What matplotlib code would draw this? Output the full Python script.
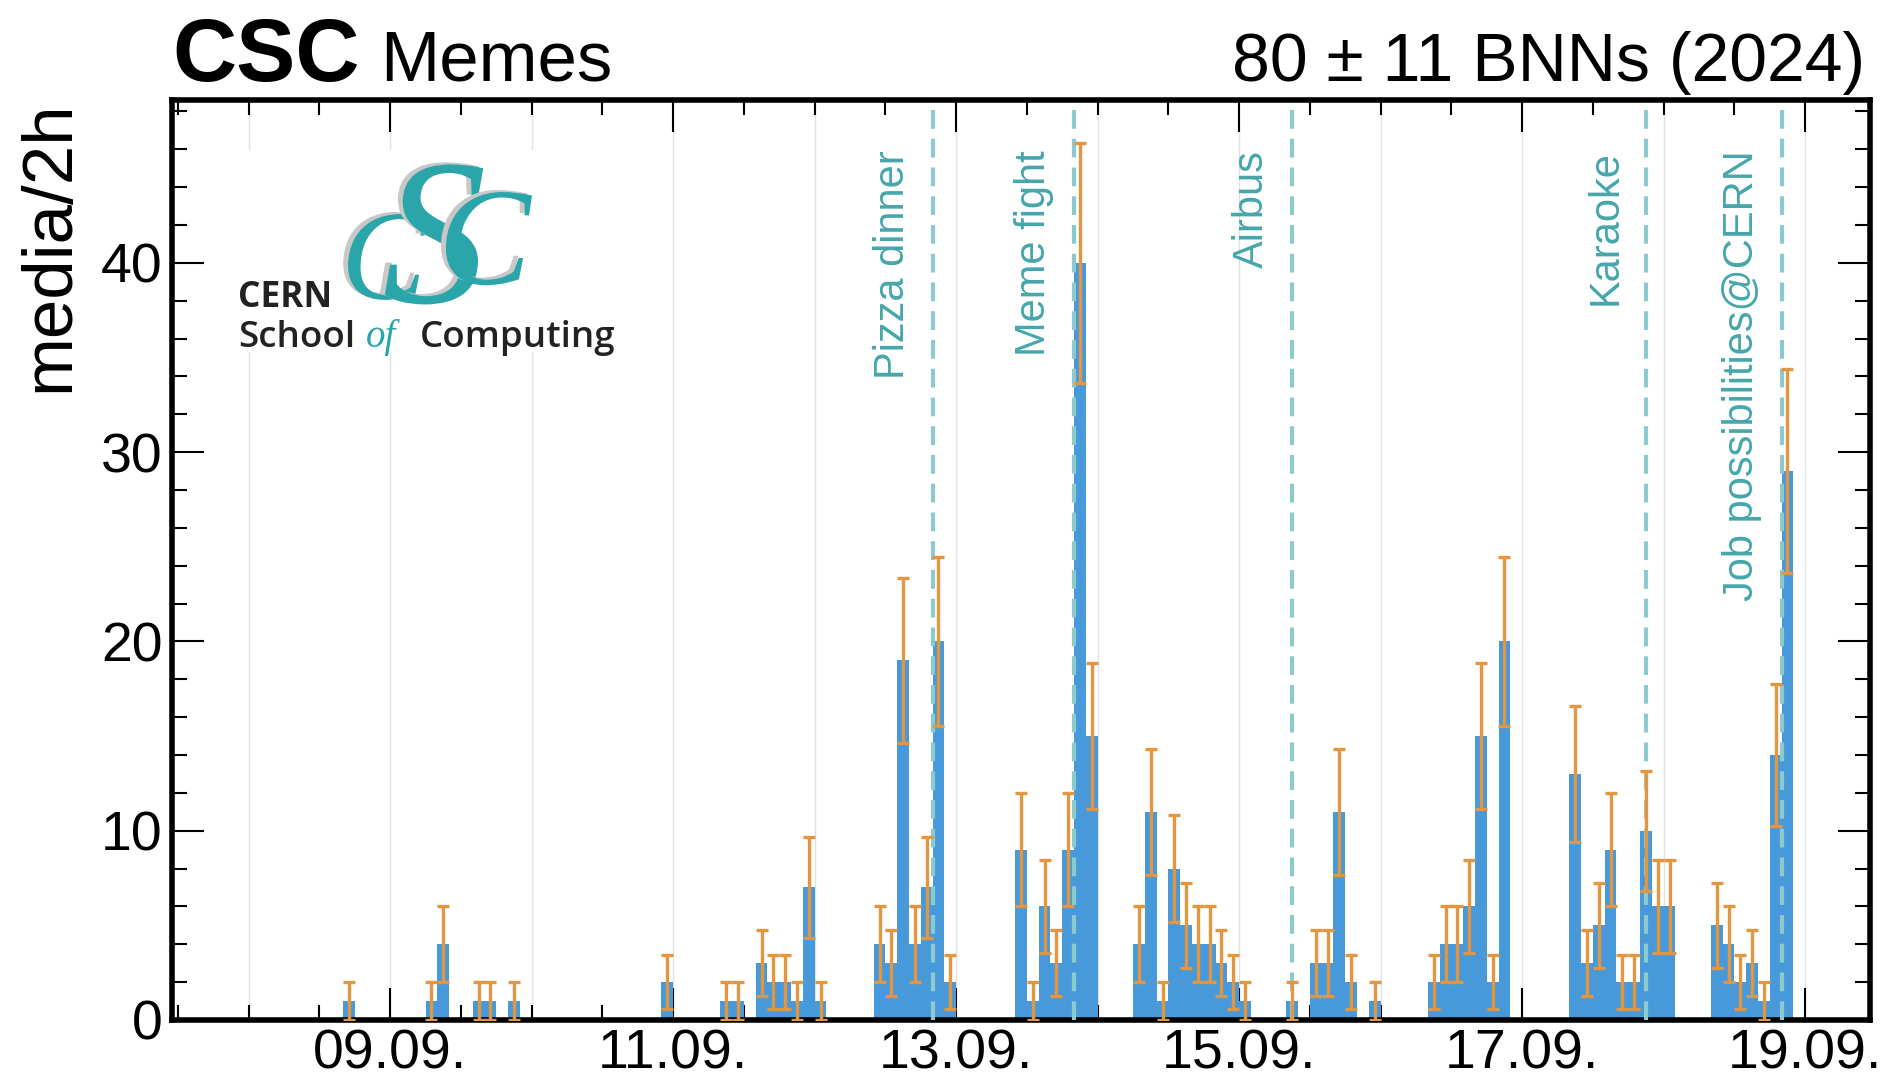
import matplotlib
matplotlib.use("Agg")
import matplotlib.pyplot as plt
import matplotlib.dates as mdates
import matplotlib.transforms as mtransforms
import matplotlib.patheffects as pe
from matplotlib.ticker import MultipleLocator, FixedLocator
from matplotlib.patches import Rectangle
import numpy as np
import pandas as pd

# ---------------- data ----------------
bin_starts = [
    "2024-09-08 16:00",
    "2024-09-09 06:00", "2024-09-09 08:00", "2024-09-09 14:00", "2024-09-09 16:00", "2024-09-09 20:00",
    "2024-09-10 22:00",
    "2024-09-11 08:00", "2024-09-11 10:00", "2024-09-11 14:00", "2024-09-11 16:00", "2024-09-11 18:00",
    "2024-09-11 20:00", "2024-09-11 22:00",
    "2024-09-12 00:00", "2024-09-12 10:00", "2024-09-12 12:00", "2024-09-12 14:00", "2024-09-12 16:00",
    "2024-09-12 18:00", "2024-09-12 20:00", "2024-09-12 22:00",
    "2024-09-13 10:00", "2024-09-13 12:00", "2024-09-13 14:00", "2024-09-13 16:00", "2024-09-13 18:00",
    "2024-09-13 20:00", "2024-09-13 22:00",
    "2024-09-14 06:00", "2024-09-14 08:00", "2024-09-14 10:00", "2024-09-14 12:00", "2024-09-14 14:00",
    "2024-09-14 16:00", "2024-09-14 18:00", "2024-09-14 20:00", "2024-09-14 22:00",
    "2024-09-15 00:00", "2024-09-15 08:00", "2024-09-15 12:00", "2024-09-15 14:00", "2024-09-15 16:00",
    "2024-09-15 18:00", "2024-09-15 22:00",
    "2024-09-16 08:00", "2024-09-16 10:00", "2024-09-16 12:00", "2024-09-16 14:00", "2024-09-16 16:00",
    "2024-09-16 18:00", "2024-09-16 20:00",
    "2024-09-17 08:00", "2024-09-17 10:00", "2024-09-17 12:00", "2024-09-17 14:00", "2024-09-17 16:00",
    "2024-09-17 18:00", "2024-09-17 20:00", "2024-09-17 22:00",
    "2024-09-18 00:00", "2024-09-18 08:00", "2024-09-18 10:00", "2024-09-18 12:00", "2024-09-18 14:00",
    "2024-09-18 16:00", "2024-09-18 18:00", "2024-09-18 20:00",
]
counts = [
    1,
    1, 4, 1, 1, 1,
    2,
    1, 1, 3, 2, 2, 1, 7,
    1, 4, 3, 19, 4, 7, 20, 2,
    9, 1, 6, 3, 9, 40, 15,
    4, 11, 1, 8, 5, 4, 4, 3, 2,
    1, 1, 3, 3, 11, 2, 1,
    2, 4, 4, 6, 15, 2, 20,
    13, 3, 5, 9, 2, 2, 10, 6,
    6, 5, 4, 2, 3, 1, 14, 29,
]

event_times = ["2024-09-12 20:00", "2024-09-13 20:00", "2024-09-15 09:00",
               "2024-09-17 21:00", "2024-09-18 20:00"]
event_labels = ["Pizza dinner", "Meme fight", "Airbus", "Karaoke", "Job possibilities@CERN"]

tick_dates = ["2024-09-09", "2024-09-11", "2024-09-13", "2024-09-15", "2024-09-17", "2024-09-19"]
tick_labels = ["09.09.", "11.09.", "13.09.", "15.09.", "17.09.", "19.09."]
grid_days = pd.date_range("2024-09-08", "2024-09-19", freq="D")
x_range = ("2024-09-07 11:00", "2024-09-19 11:00")

# ---------------- style ----------------
plt.rcParams['font.family'] = ['Liberation Sans', 'DejaVu Sans']
BLUE = '#4799da'
ORANGE = '#e3963f'
TEAL_LINE = '#8ccacd'
TEAL_TEXT = '#45a6ab'
LOGO_TEAL = '#2aa5a9'

fig = plt.figure(figsize=(18.93, 10.86), dpi=100)
ax = fig.add_axes([172 / 1893, 66 / 1086, 1698 / 1893, 920 / 1086])

starts = mdates.date2num(pd.to_datetime(bin_starts))
width = 2.0 / 24.0
centers = starts + width / 2
vals = np.array(counts, dtype=float)

ax.bar(centers, vals, width=width, color=BLUE, linewidth=0, zorder=2)
ax.errorbar(centers, vals, yerr=np.sqrt(vals), fmt='none', ecolor=ORANGE,
            elinewidth=2.4, capsize=4, capthick=2.4, zorder=4)

# day grid lines
for d in grid_days:
    ax.axvline(mdates.date2num(d), color='#e2e2e2', lw=1.0, zorder=0)

# event lines + labels
for t, lab in zip(event_times, event_labels):
    xv = mdates.date2num(pd.Timestamp(t))
    ax.axvline(xv, color=TEAL_LINE, lw=3, dashes=(4.5, 2.4), zorder=3)
    trans = mtransforms.blended_transform_factory(ax.transData, ax.transAxes) + \
        mtransforms.ScaledTranslation(-0.20, 0, fig.dpi_scale_trans)
    ax.text(xv, 0.945, lab, rotation=90, ha='right', va='top', fontsize=30,
            color=TEAL_TEXT, transform=trans, zorder=5)

# axes limits/ticks
ax.set_xlim(mdates.date2num(pd.Timestamp(x_range[0])), mdates.date2num(pd.Timestamp(x_range[1])))
ax.set_ylim(0, 48.6)
ax.xaxis.set_major_locator(FixedLocator(mdates.date2num(pd.to_datetime(tick_dates))))
ax.set_xticklabels(tick_labels)
ax.xaxis.set_minor_locator(mdates.HourLocator(byhour=[0, 12]))
ax.yaxis.set_major_locator(MultipleLocator(10))
ax.yaxis.set_minor_locator(MultipleLocator(2))
ax.tick_params(which='both', direction='in', top=True, right=True, width=1.5)
ax.tick_params(which='major', length=23, labelsize=40)
ax.tick_params(which='minor', length=11)
ax.tick_params(axis='x', which='major', pad=6)
ax.tick_params(axis='y', which='major', pad=7)
for sp in ax.spines.values():
    sp.set_linewidth(4)

ax.set_ylabel("media/2h", fontsize=51, loc='top')
ax.yaxis.set_label_coords(-0.052, 1.0)

# header texts
ax.text(0.0, 1.021, "CSC", transform=ax.transAxes, fontsize=64, fontweight='bold',
        ha='left', va='baseline')
ax.text(0.1225, 1.021, "Memes", transform=ax.transAxes, fontsize=51,
        ha='left', va='baseline')
ax.text(0.997, 1.021, "80 \u00b1 11 BNNs (2024)", transform=ax.transAxes, fontsize=49,
        ha='right', va='baseline')

# logo
ax.add_patch(Rectangle((0.034, 0.726), 0.23, 0.22, transform=ax.transAxes,
                       facecolor='white', edgecolor='none', zorder=1))
shadow_fx = [pe.SimplePatchShadow(offset=(-3.5, 1.5), shadow_rgbFace='#c8c8c8', alpha=1.0),
             pe.Normal()]
for ch, x, y, fs in [("C", 0.1246, 0.784, 92), ("S", 0.1546, 0.780, 150), ("C", 0.184, 0.800, 100)]:
    ax.text(x, y, ch, transform=ax.transAxes, fontsize=fs, family='Liberation Serif', style='italic',
            color=LOGO_TEAL, ha='center', va='baseline', zorder=6, path_effects=shadow_fx)
ax.text(0.039, 0.775, "CERN", transform=ax.transAxes, fontsize=25.5, family='Open Sans',
        fontweight='bold', color='#222222', ha='left', va='baseline', zorder=7)
ax.text(0.039, 0.7315, "School", transform=ax.transAxes, fontsize=26.5, family='Open Sans',
        fontweight='semibold', color='#222222', ha='left', va='baseline', zorder=7)
ax.text(0.1143, 0.7315, "of", transform=ax.transAxes, fontsize=28, family='Liberation Serif',
        style='italic', color=LOGO_TEAL, ha='left', va='baseline', zorder=7)
ax.text(0.146, 0.7315, "Computing", transform=ax.transAxes, fontsize=26.5, family='Open Sans',
        fontweight='semibold', color='#222222', ha='left', va='baseline', zorder=7)

fig.savefig("out.png", dpi=100)
